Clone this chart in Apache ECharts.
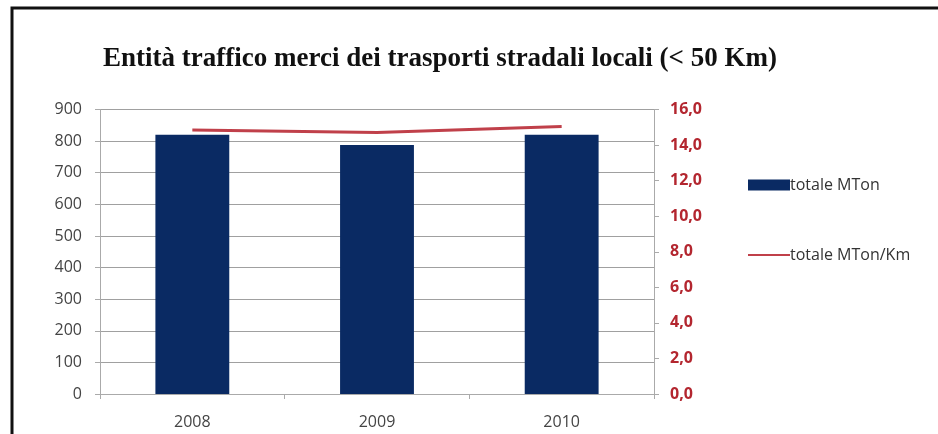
<!DOCTYPE html>
<html>
<head>
<meta charset="utf-8">
<script src="https://cdn.jsdelivr.net/npm/echarts@6/dist/echarts.min.js"></script>
<style>
  html, body { margin: 0; padding: 0; background: #fff; }
  #chart { width: 938px; height: 434px; }
</style>
</head>
<body>
<div id="chart"></div>
<script>
// Anni e valori del traffico merci locale
const years = ['2008', '2009', '2010'];
const totaleMTon = [820, 788, 820];
const totaleMTonKm = [14.85, 14.7, 15.05];
const leftTicks = [0, 900, 100];
const rightTicks = [0, 16, 2];

const chart = echarts.init(document.getElementById('chart'));
const axisFont = '"Open Sans", "DejaVu Sans", sans-serif';

chart.setOption({
  backgroundColor: '#fff',
  animation: false,
  title: {
    text: 'Entità traffico merci dei trasporti stradali locali (< 50 Km)',
    left: 98,
    top: 41,
    textStyle: {
      fontFamily: '"Liberation Serif", "DejaVu Serif", serif',
      fontWeight: 'bold',
      fontSize: 27,
      color: '#111'
    }
  },
  graphic: [{
    type: 'rect',
    shape: { x: 12, y: 8, width: 940, height: 440 },
    style: { fill: 'none', stroke: '#111', lineWidth: 3 },
    silent: true
  }],
  legend: {
    orient: 'vertical',
    left: 742,
    top: 172,
    itemGap: 54,
    itemWidth: 42,
    itemHeight: 11,
    textStyle: { fontFamily: axisFont, fontSize: 16, color: '#333', padding: [0, 0, 0, -5] },
    data: [
      { name: 'totale MTon', icon: 'rect' },
      { name: 'totale MTon/Km', itemStyle: { opacity: 0 } }
    ]
  },
  grid: { left: 100, right: 284, top: 109.5, bottom: 40, containLabel: false },
  xAxis: {
    type: 'category',
    data: years,
    axisLine: { lineStyle: { color: '#aaa' } },
    axisTick: { show: true, length: 5, lineStyle: { color: '#aaa' } },
    axisLabel: { fontFamily: axisFont, fontSize: 16, color: '#444', margin: 20 }
  },
  yAxis: [{
    type: 'value',
    min: leftTicks[0], max: leftTicks[1], interval: leftTicks[2],
    axisLine: { show: true, lineStyle: { color: '#aaa' } },
    axisTick: { show: true, length: 5, lineStyle: { color: '#aaa' } },
    splitLine: { lineStyle: { color: '#a0a0a0' } },
    axisLabel: { fontFamily: axisFont, fontSize: 16, color: '#444', margin: 18 }
  }, {
    type: 'value',
    position: 'right',
    min: rightTicks[0], max: rightTicks[1], interval: rightTicks[2],
    axisLine: { show: true, lineStyle: { color: '#aaa' } },
    axisTick: { show: true, length: 5, lineStyle: { color: '#aaa' } },
    splitLine: { show: false },
    axisLabel: {
      fontFamily: axisFont, fontSize: 16, fontWeight: 'bold', color: '#b3262f', margin: 16,
      formatter: v => v.toFixed(1).replace('.', ',')
    }
  }],
  series: [{
    name: 'totale MTon',
    type: 'bar',
    data: totaleMTon,
    barWidth: '40%',
    itemStyle: { color: '#0a2a63' }
  }, {
    name: 'totale MTon/Km',
    type: 'line',
    yAxisIndex: 1,
    data: totaleMTonKm,
    symbol: 'none',
    itemStyle: { color: '#c0404a' },
    lineStyle: { color: '#c0404a', width: 3 }
  }]
});
</script>
</body>
</html>
